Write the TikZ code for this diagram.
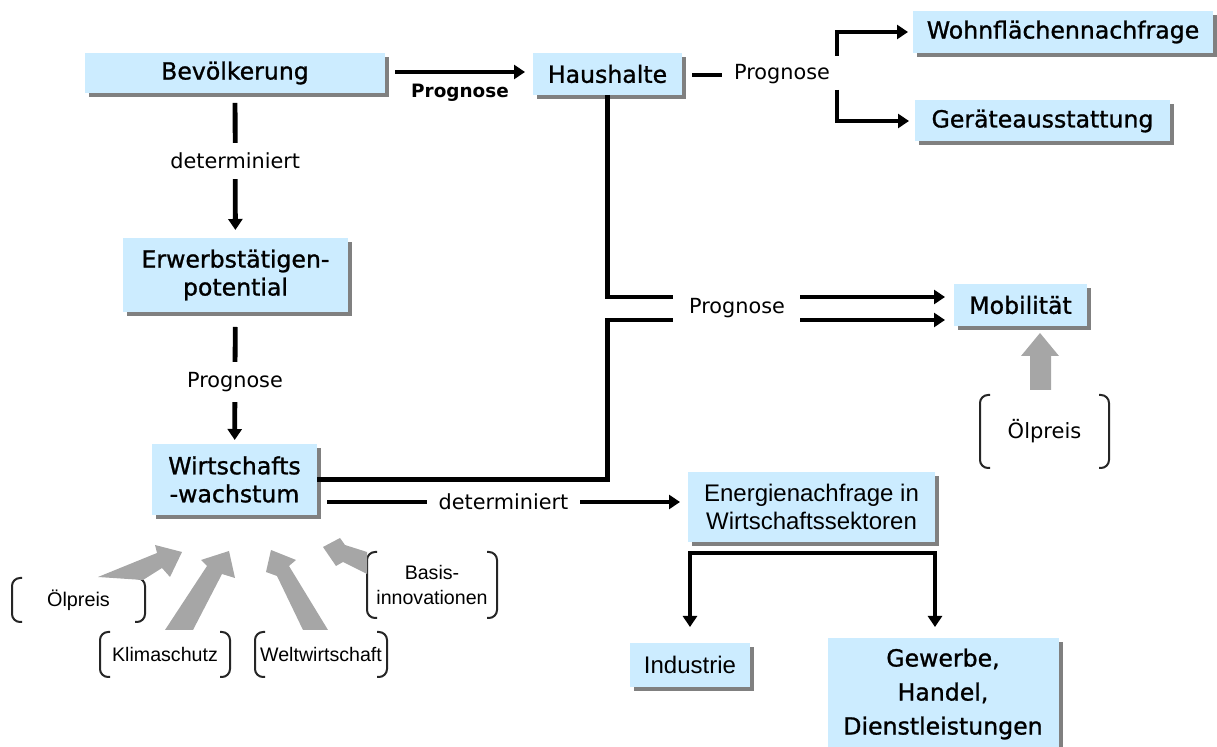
\documentclass[tikz,border=0pt]{standalone}
\usepackage{fontspec}
\setmainfont{DejaVu Sans}
\newfontfamily\boxf[FakeBold=1.1]{DejaVu Sans}
\newfontfamily\arialf{Liberation Sans}
\usetikzlibrary{arrows.meta,shadows,calc}
\definecolor{boxblue}{RGB}{204,236,255}
\definecolor{shadowgray}{RGB}{128,128,128}
\definecolor{arrowgray}{RGB}{166,166,166}
\begin{document}
\begin{tikzpicture}[x=0.5pt,y=-0.5pt,
  box/.style={fill=boxblue, inner sep=0pt, outer sep=0pt, align=center,
    drop shadow={shadow xshift=2pt, shadow yshift=-2pt, fill=shadowgray, opacity=1},
    font=\boxf\fontsize{11.8pt}{14pt}\selectfont},
  abox/.style={box, font=\arialf\fontsize{12pt}{14pt}\selectfont},
  conn/.style={line width=2.4pt, draw=black, line join=miter},
  arr/.style={-{Triangle[length=5.5pt,width=7pt]}},
  arrboth/.style={{Triangle[length=5.5pt,width=7pt]}-{Triangle[length=5.5pt,width=7pt]}},
  lab/.style={font=\fontsize{10.4pt}{12pt}\selectfont, fill=white, inner xsep=6pt, inner ysep=5pt},
  plainlab/.style={font=\fontsize{10.4pt}{12pt}\selectfont, inner sep=0pt},
  brk/.style={line width=1pt, draw=black!85, rounded corners=4pt},
  brnode/.style={inner sep=0pt, outer sep=0pt, align=center, font=\arialf\fontsize{9.8pt}{12.5pt}\selectfont}
]
\useasboundingbox (0,0) rectangle (1217,747);

% boxes
\node[box, minimum width=150pt, minimum height=20pt] (bev) at (235,73) {Bevölkerung};
\node[box, minimum width=74.5pt, minimum height=21pt] (haus) at (607.5,74) {Haushalte};
\node[box, minimum width=150pt, minimum height=21pt] (wohn) at (1063,32) {Wohnflächennachfrage};
\node[box, minimum width=127.5pt, minimum height=20.5pt] (geraete) at (1042.5,121) {Geräteausstattung};
\node[box, minimum width=66.5pt, minimum height=21pt] (mob) at (1020.5,305) {Mobilität};
\node[box, minimum width=112.5pt, minimum height=37pt] (erw) at (235.5,275) {Erwerbstätigen-\\potential};
\node[box, minimum width=82.5pt, minimum height=35.5pt] (wir) at (234.5,479.5) {Wirtschafts\\-wachstum};
\node[abox, minimum width=123.5pt, minimum height=35pt] (ener) at (811.5,507) {Energienachfrage in\\Wirtschaftssektoren};
\node[abox, minimum width=60pt, minimum height=22pt] (ind) at (690,665) {Industrie};
\node[box, minimum width=115.5pt, minimum height=56pt, font=\boxf\fontsize{11.8pt}{17pt}\selectfont] (gew) at (943,694) {Gewerbe,\\Handel,\\Dienstleistungen};

% bracketed influence nodes
\node[brnode, font=\arialf\fontsize{9.9pt}{12pt}\selectfont, minimum width=66.5pt, minimum height=22pt] (oel1) at (78.5,600) {Ölpreis};
\node[brnode, minimum width=65pt, minimum height=22.5pt] (klima) at (165,654.5) {Klimaschutz};
\node[brnode, minimum width=66pt, minimum height=22.5pt] (welt) at (321,654.5) {Weltwirtschaft};
\node[brnode, minimum width=65pt, minimum height=33pt] (basis) at (432,585) {Basis-\\innovationen};
\node[brnode, font=\fontsize{10.5pt}{12pt}\selectfont, minimum width=64.5pt, minimum height=36.5pt] (oel2) at (1044.5,431.5) {Ölpreis};
\foreach \n in {oel1,klima,welt,basis,oel2}{
  \draw[brk] ([xshift=5pt]\n.north west) -- (\n.north west) -- (\n.south west) -- ([xshift=5pt]\n.south west);
  \draw[brk] ([xshift=-5pt]\n.north east) -- (\n.north east) -- (\n.south east) -- ([xshift=-5pt]\n.south east);
}

% gray influence arrows
\fill[arrowgray] (98,577) -- (157,553) -- (155,545) -- (182,552) -- (170,577) -- (162,568) -- (143,580) -- cycle;
\fill[arrowgray] (165,630) -- (207,566) -- (201,560) -- (229,551) -- (235,578) -- (222,574) -- (193,630) -- cycle;
\fill[arrowgray] (303,630) -- (277,576) -- (266,572) -- (271,550) -- (296,560) -- (289,566) -- (328,630) -- cycle;
\fill[arrowgray] (367,552) -- (345,545) -- (340,538) -- (323,547) -- (336,566) -- (343,562) -- (367,574) -- cycle;
\fill[arrowgray] (1030,390) -- (1030,356) -- (1021,356) -- (1040,333) -- (1059,356) -- (1051,356) -- (1051,390) -- cycle;

% Bevölkerung -> Haushalte
\draw[conn,arr] ($(bev.east)+(10,-1)$) -- ($(haus.west)+(-8,-2)$);
\node[font=\bfseries\fontsize{9.2pt}{11pt}\selectfont, inner sep=0pt] (p1) at (460,93) {Prognose};

% Bevölkerung -> Erwerbstätigenpotential
\draw[conn,arr,shorten <=5pt,shorten >=4pt] (bev) -- node[lab,pos=0.47]{determiniert} (erw);
% Erwerbstätigenpotential -> Wirtschaftswachstum
\draw[conn,arr,shorten <=7.5pt,shorten >=2pt] (erw) -- node[lab,pos=0.53]{Prognose} (wir);
% Wirtschaftswachstum -> Energienachfrage
\draw[conn,arr] ($(wir.east)+(10,22.5)$) -- node[lab,pos=0.5]{determiniert} ($(ener.west)+(-8,-5)$);

% Haushalte -> Prognose -> Wohnfläche / Geräte
\node[plainlab] (p2) at (782,74) {Prognose};
\draw[conn] ($(haus.east)+(10,1)$) -- ($(p2.west)+(-12,1)$);
\coordinate (b1) at (837,56);
\coordinate (b2) at (837,90);
\draw[conn,arr] (b1) |- ($(wohn.west)+(-5,0)$);
\draw[conn,arr] (b2) |- ($(geraete.west)+(-6,0)$);

% Haushalte & Wirtschaftswachstum -> Mobilität
\node[plainlab] (p3) at (737,308) {Prognose};
\coordinate (h1) at (673,297);
\coordinate (h2) at (673,320);
\draw[conn] (haus.south) |- (h1);
\draw[conn] (wir.east) -| (haus.south |- h2) -- (h2);
\coordinate (m1) at (800,297);
\coordinate (m2) at (800,320);
\draw[conn,arr,shorten >=4.5pt] (m1) -- (mob.west |- m1);
\draw[conn,arr,shorten >=4.5pt] (m2) -- (mob.west |- m2);

% Energienachfrage -> Industrie / Gewerbe
\coordinate (e1) at (690,553);
\coordinate (e2) at (935,553);
\draw[conn,arrboth] ($(e1)+(0,74)$) -- (e1) -- (e2) -- ($(e2)+(0,74)$);
\end{tikzpicture}
\end{document}
